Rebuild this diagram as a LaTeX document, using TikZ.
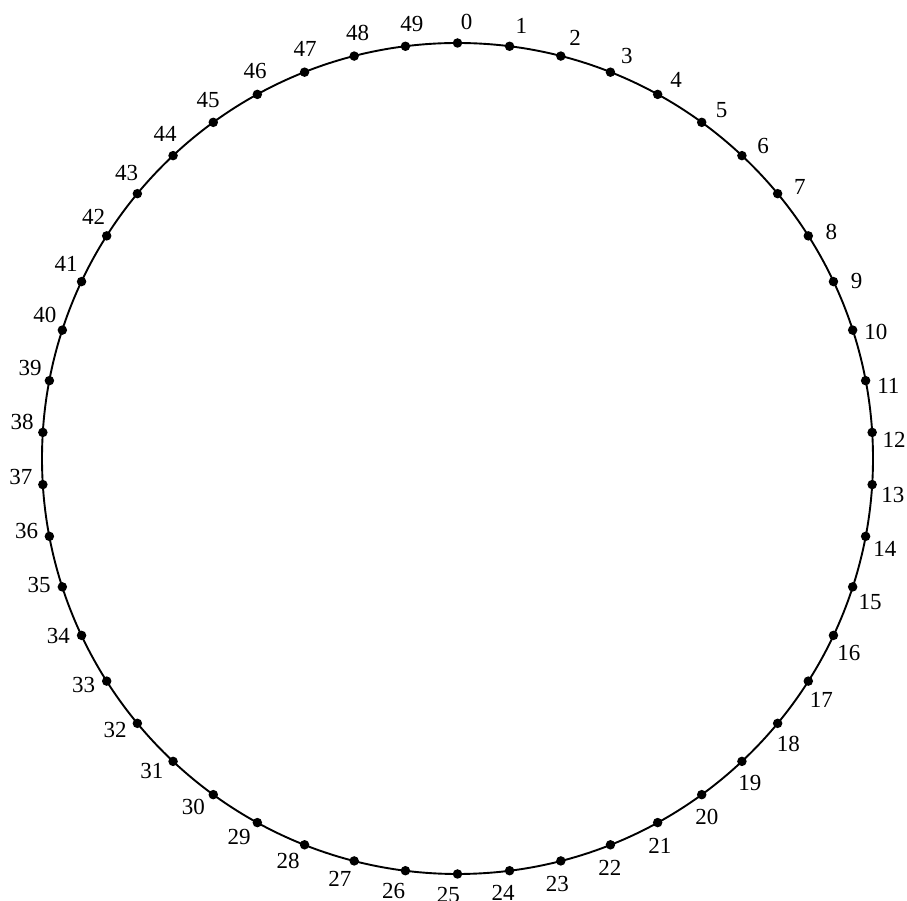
\documentclass[tikz,border=0pt]{standalone}
\usepackage{fontspec}
\setmainfont{Liberation Serif}
\usetikzlibrary{calc}
\begin{document}
\begin{tikzpicture}[x=1pt,y=1pt,
  dot/.style={circle,fill=black,inner sep=0pt,minimum size=9.5pt},
  lab/.style={font=\fontsize{23}{26}\selectfont,inner sep=0pt},
  ring/.style={line width=1.9pt}]
\useasboundingbox (0,0) rectangle (907,901);
\coordinate (c) at (457.5,442.5);
\draw[ring] (c) circle[radius=415.5];
\foreach \i in {0,...,49}{
  \node[dot] (p\i) at ($(c)+({90-7.2*\i}:415.5)$) {};
  \node[lab] (l\i) at ($(c)+({90-7.2*\i-1.2}:437)$) {\i};
}
\end{tikzpicture}
\end{document}
